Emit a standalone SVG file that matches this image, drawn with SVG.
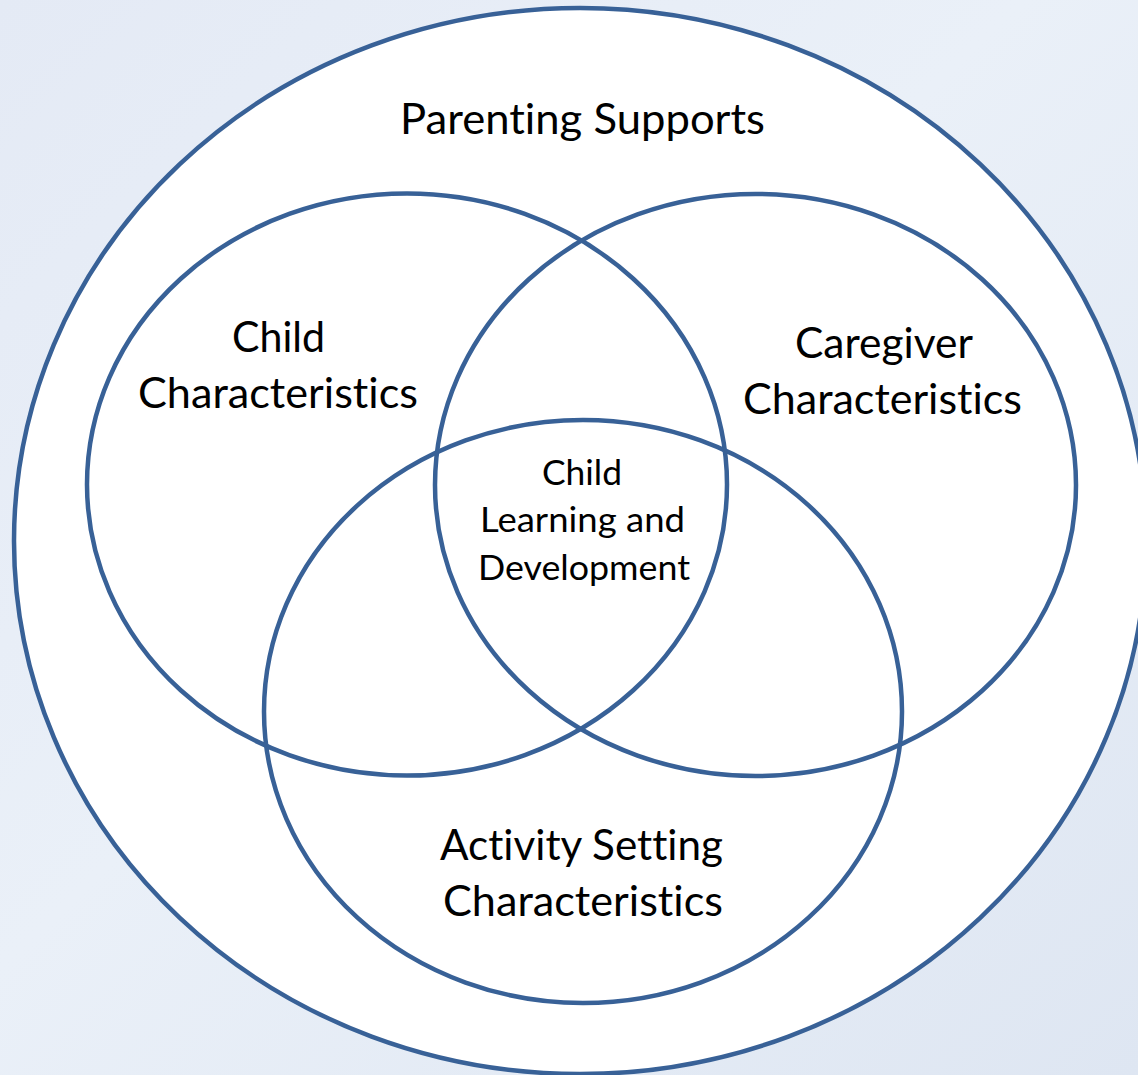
<svg xmlns="http://www.w3.org/2000/svg" width="1138" height="1075" viewBox="0 0 1138 1075">
  <defs>
    <linearGradient id="bg" x1="0" y1="0" x2="1" y2="1">
      <stop offset="0" stop-color="#E4EAF5"/>
      <stop offset="0.45" stop-color="#EAF0F8"/>
      <stop offset="1" stop-color="#DEE6F2"/>
    </linearGradient>
  </defs>
  <style>
    .ring { fill: none; stroke: #386197; stroke-width: 4.5; }
    .outer { fill: #FFFFFF; stroke: #386197; stroke-width: 4.5; }
    text { font-family: Lato, "Open Sans", "Liberation Sans", sans-serif; fill: #000000; font-variant-ligatures: none; font-feature-settings: "liga" 0, "clig" 0; }
    .big { font-size: 43px; }
    .small { font-size: 35px; }
  </style>
  <rect x="0" y="0" width="1138" height="1075" fill="url(#bg)"/>

  <g id="parenting-supports">
    <ellipse class="outer" cx="580" cy="541" rx="566" ry="533"/>
    <text class="big" x="400" y="134" textLength="365" lengthAdjust="spacingAndGlyphs">Parenting Supports</text>
  </g>

  <g id="child-characteristics">
    <ellipse class="ring" cx="407" cy="484.5" rx="320" ry="291"/>
    <text class="big" x="232" y="352" textLength="93" lengthAdjust="spacingAndGlyphs">Child</text>
    <text class="big" x="138" y="408" textLength="280" lengthAdjust="spacingAndGlyphs">Characteristics</text>
  </g>

  <g id="caregiver-characteristics">
    <ellipse class="ring" cx="755.5" cy="485" rx="320.5" ry="291"/>
    <text class="big" x="795" y="358" textLength="178" lengthAdjust="spacingAndGlyphs">Caregiver</text>
    <text class="big" x="743" y="414" textLength="279" lengthAdjust="spacingAndGlyphs">Characteristics</text>
  </g>

  <g id="activity-setting-characteristics">
    <ellipse class="ring" cx="583" cy="711.5" rx="319" ry="291.5"/>
    <text class="big" x="440" y="860" textLength="283" lengthAdjust="spacingAndGlyphs">Activity Setting</text>
    <text class="big" x="443" y="916" textLength="280" lengthAdjust="spacingAndGlyphs">Characteristics</text>
  </g>

  <g id="child-learning-and-development">
    <text class="small" x="542" y="485" textLength="80" lengthAdjust="spacingAndGlyphs">Child</text>
    <text class="small" x="480" y="532" textLength="205" lengthAdjust="spacingAndGlyphs">Learning and</text>
    <text class="small" x="478" y="580" textLength="212" lengthAdjust="spacingAndGlyphs">Development</text>
  </g>

  <g id="connectors"></g>
</svg>
